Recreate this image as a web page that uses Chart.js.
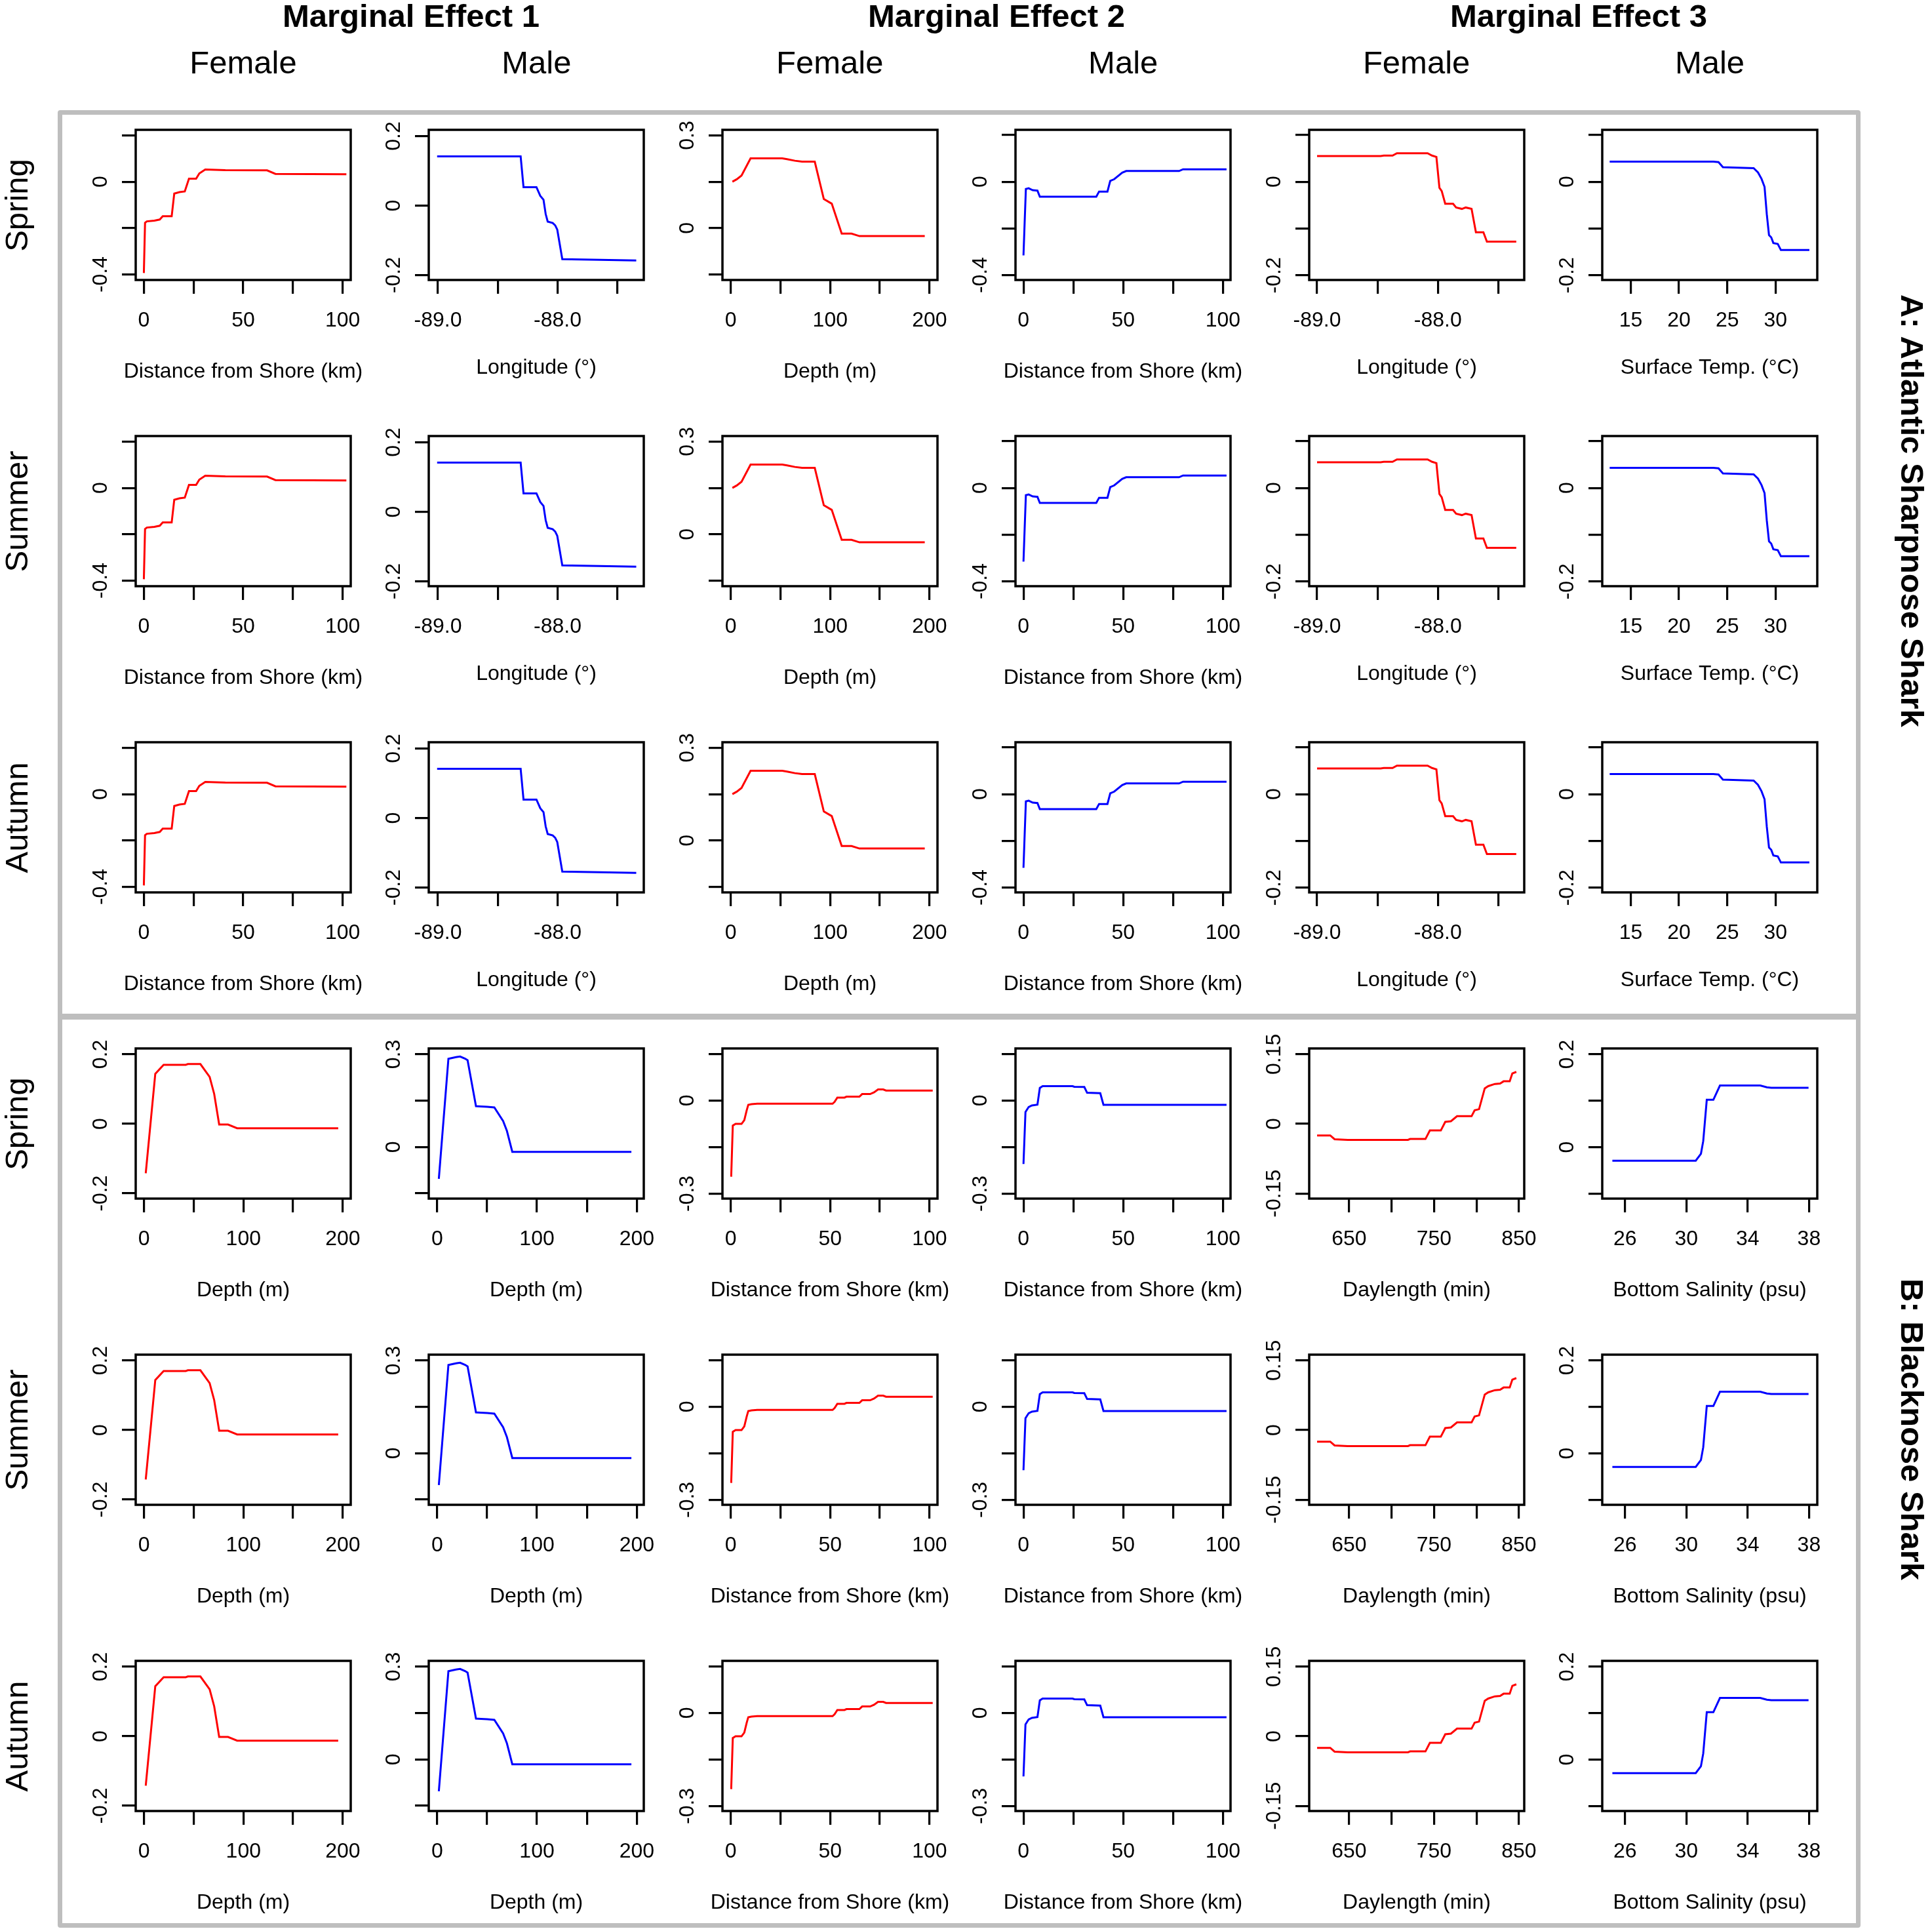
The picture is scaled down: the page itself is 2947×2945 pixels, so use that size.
<!DOCTYPE html>
<html>
<head>
<meta charset="utf-8">
<script src="https://cdn.jsdelivr.net/npm/chart.js@4.4.1/dist/chart.umd.min.js"></script>
<style>
  body { margin: 0; background: #fff; }
  #page { position: relative; width: 2947px; height: 2945px; overflow: hidden;
          font-family: "Liberation Sans", Arial, sans-serif; color: #000; background: #fff; }
  .lbl { position: absolute; transform: translate(-50%, -50%); white-space: nowrap;
         line-height: 1; font-size: 49px; }
  .bold { font-weight: bold; }
  .up { transform: translate(-50%, -50%) rotate(-90deg); }
  .down { transform: translate(-50%, -50%) rotate(90deg); }
  .block { position: absolute; box-sizing: border-box; border: 7px solid #bebebe; border-radius: 4px; }
  canvas { position: absolute; }
</style>
</head>
<body>
<div id="page"></div>
<script>
// ---- tick values / labels ----
const distTicks = [0, 25, 50, 75, 100];
const distLabels = ['0', '', '50', '', '100'];
const depthTicks = [0, 50, 100, 150, 200];
const depthLabels = ['0', '', '100', '', '200'];
const lonTicks = [-89, -88.5, -88, -87.5];
const lonLabels = ['-89.0', '', '-88.0', ''];
const tempTicks = [15, 20, 25, 30];
const tempLabels = ['15', '20', '25', '30'];
const dayTicks = [650, 700, 750, 800, 850];
const dayLabels = ['650', '', '750', '', '850'];
const salTicks = [26, 30, 34, 38];
const salLabels = ['26', '30', '34', '38'];

const yTicks04 = [0.2, 0, -0.2, -0.4];
const yLabels04 = ['', '0', '', '-0.4'];
const yTicks02 = [0.2, 0, -0.2];
const yLabels02 = ['0.2', '0', '-0.2'];
const yTicks03 = [0.3, 0.15, 0, -0.15];
const yLabels03 = ['0.3', '', '0', ''];
const yTicks01 = [0.1, 0, -0.1, -0.2];
const yLabels01 = ['', '0', '', '-0.2'];
const yTicks015 = [0.15, 0, -0.15, -0.3];
const yLabels015 = ['', '0', '', '-0.3'];
const yTicksDay = [0.15, 0, -0.15];
const yLabelsDay = ['0.15', '0', '-0.15'];
const yTicksSal = [0.2, 0.1, 0, -0.1];
const yLabelsSal = ['0.2', '', '0', ''];

// ---- A: Atlantic Sharpnose Shark ----
const aDistFX = [0, 0.6, 1.5, 5.3, 8, 9.5, 14, 15.3, 17.9, 20.6, 22.7, 26.3, 27.9, 30.9, 41, 62, 66.2, 101.9];
const aDistFY = [-0.394, -0.177, -0.171, -0.168, -0.163, -0.149, -0.149, -0.051, -0.045, -0.042, 0.013, 0.013, 0.036, 0.053, 0.050, 0.049, 0.034, 0.032];
const aLonMX = [-89.007, -88.309, -88.285, -88.177, -88.145, -88.118, -88.1, -88.083, -88.041, -88.02, -88.003, -87.961, -87.647, -87.343];
const aLonMY = [0.1415, 0.1415, 0.053, 0.053, 0.028, 0.017, -0.024, -0.046, -0.05, -0.057, -0.069, -0.154, -0.156, -0.158];
const aDepthFX = [1.6, 6, 10.8, 19.9, 51.8, 56.6, 64.5, 71.7, 84.5, 93.6, 101.6, 111.6, 121.5, 129.5, 195.2];
const aDepthFY = [0.15, 0.158, 0.17, 0.2255, 0.2255, 0.223, 0.218, 0.215, 0.215, 0.094, 0.079, -0.018, -0.018, -0.026, -0.026];
const aDistMX = [0, 0.6, 1.2, 2.6, 4.6, 7, 8.2, 36.5, 37.9, 42.1, 43.5, 45.5, 49.5, 51.5, 78, 80, 101.8];
const aDistMY = [-0.3155, -0.172, -0.031, -0.028, -0.036, -0.038, -0.064, -0.064, -0.042, -0.042, 0.004, 0.011, 0.039, 0.046, 0.046, 0.0535, 0.0535];
const aLonFX = [-89, -88.473, -88.448, -88.375, -88.339, -88.085, -88.048, -88.012, -87.987, -87.968, -87.939, -87.874, -87.849, -87.801, -87.769, -87.721, -87.685, -87.623, -87.594, -87.351];
const aLonFY = [0.055, 0.055, 0.056, 0.056, 0.061, 0.061, 0.056, 0.053, -0.013, -0.02, -0.047, -0.047, -0.055, -0.058, -0.055, -0.058, -0.108, -0.108, -0.128, -0.128];
const aTempMX = [12.82, 23.55, 24.09, 24.55, 26.14, 27.73, 28.18, 28.55, 28.86, 29.09, 29.32, 29.55, 29.77, 30.23, 30.55, 33.5];
const aTempMY = [0.043, 0.043, 0.042, 0.031, 0.03, 0.029, 0.02, 0.006, -0.011, -0.069, -0.114, -0.119, -0.131, -0.133, -0.146, -0.146];

// ---- B: Blacknose Shark ----
const bDepthFX = [1.7, 11.3, 19.7, 42, 44.1, 56.7, 66, 70.6, 75.6, 84.5, 93.7, 195.4];
const bDepthFY = [-0.142, 0.144, 0.17, 0.17, 0.172, 0.172, 0.135, 0.086, -0.002, -0.002, -0.0126, -0.0126];
const bDepthMX = [1.7, 11.3, 18.8, 23, 28, 30.5, 38.9, 43.9, 50.2, 57.3, 66.1, 69.9, 75.3, 194.6];
const bDepthMY = [-0.103, 0.2856, 0.291, 0.293, 0.286, 0.281, 0.132, 0.131, 0.13, 0.128, 0.084, 0.052, -0.0156, -0.0156];
const bDistFX = [0.2, 1, 2.4, 5.4, 6.8, 8, 8.8, 10.4, 13.3, 51.2, 52.2, 53.6, 57.2, 58.2, 64.7, 66.1, 70.1, 72.1, 74.1, 76.7, 78.1, 101.6];
const bDistFY = [-0.2456, -0.081, -0.0755, -0.0755, -0.0635, -0.0318, -0.0141, -0.012, -0.0106, -0.0106, -0.0049, 0.0092, 0.0092, 0.012, 0.012, 0.0205, 0.0205, 0.026, 0.0353, 0.0353, 0.0318, 0.0318];
const bDistMX = [0, 1, 2.6, 4.2, 7, 8.2, 9.6, 24.6, 25.5, 30.5, 31.9, 38.5, 40.1, 101.8];
const bDistMY = [-0.2047, -0.0374, -0.0212, -0.0162, -0.0134, 0.0402, 0.0459, 0.0459, 0.0438, 0.0431, 0.0247, 0.0233, -0.0141, -0.0141];
const bDayFX = [612.3, 627.8, 632.9, 648.4, 719.3, 721.8, 739.9, 745.1, 758, 763.2, 769.9, 777.1, 794.2, 797.8, 803, 809.7, 813.8, 821.6, 827.8, 831.9, 839.1, 842.2, 846.9];
const bDayFY = [-0.025, -0.025, -0.0331, -0.0345, -0.0345, -0.0326, -0.0326, -0.0142, -0.0142, 0.0043, 0.0057, 0.0165, 0.0165, 0.0293, 0.0317, 0.0765, 0.0813, 0.086, 0.0869, 0.0917, 0.0917, 0.1087, 0.112];
const bSalMX = [25.17, 30.61, 30.95, 31.1, 31.33, 31.76, 32.19, 34.82, 35.25, 35.54, 37.97];
const bSalMY = [-0.0293, -0.0293, -0.0142, 0.0132, 0.102, 0.102, 0.1329, 0.1329, 0.1291, 0.1281, 0.1281];

const seasons = ['Spring', 'Summer', 'Autumn'];
const effects = ['Marginal Effect 1', 'Marginal Effect 2', 'Marginal Effect 3'];
const sexes = ['Female', 'Male'];

const RED = '#ff0000', BLUE = '#0000ff';
const DIST = 'Distance from Shore (km)', LON = 'Longitude (°)', DEPTH = 'Depth (m)';

// one row of six panels per block (same curves in every season)
const blockA = [
  { x: aDistFX, y: aDistFY, c: RED, t: DIST, xr: [-4.1, 104.1], xt: distTicks, xl: distLabels, yr: [-0.424, 0.224], yt: yTicks04, yl: yLabels04 },
  { x: aLonMX, y: aLonMY, c: BLUE, t: LON, xr: [-89.077, -87.28], xt: lonTicks, xl: lonLabels, yr: [-0.214, 0.218], yt: yTicks02, yl: yLabels02, deg: true },
  { x: aDepthFX, y: aDepthFY, c: RED, t: DEPTH, xr: [-8.4, 208], xt: depthTicks, xl: depthLabels, yr: [-0.168, 0.318], yt: yTicks03, yl: yLabels03 },
  { x: aDistMX, y: aDistMY, c: BLUE, t: DIST, xr: [-4.0, 103.8], xt: distTicks, xl: distLabels, yr: [-0.421, 0.2225], yt: yTicks04, yl: yLabels04 },
  { x: aLonFX, y: aLonFY, c: RED, t: LON, xr: [-89.065, -87.285], xt: lonTicks, xl: lonLabels, yr: [-0.21, 0.111], yt: yTicks01, yl: yLabels01, deg: true },
  { x: aTempMX, y: aTempMY, c: BLUE, t: 'Surface Temp. (°C)', xr: [12.05, 34.32], xt: tempTicks, xl: tempLabels, yr: [-0.21, 0.111], yt: yTicks01, yl: yLabels01, deg: true }
];
const blockB = [
  { x: bDepthFX, y: bDepthFY, c: RED, t: DEPTH, xr: [-8.4, 208], xt: depthTicks, xl: depthLabels, yr: [-0.215, 0.217], yt: yTicks02, yl: yLabels02 },
  { x: bDepthMX, y: bDepthMY, c: BLUE, t: DEPTH, xr: [-8.4, 207], xt: depthTicks, xl: depthLabels, yr: [-0.167, 0.319], yt: yTicks03, yl: yLabels03 },
  { x: bDistFX, y: bDistFY, c: RED, t: DIST, xr: [-4.2, 104], xt: distTicks, xl: distLabels, yr: [-0.316, 0.1673], yt: yTicks015, yl: yLabels015 },
  { x: bDistMX, y: bDistMY, c: BLUE, t: DIST, xr: [-4.0, 103.8], xt: distTicks, xl: distLabels, yr: [-0.316, 0.1673], yt: yTicks015, yl: yLabels015 },
  { x: bDayFX, y: bDayFY, c: RED, t: 'Daylength (min)', xr: [603, 856.2], xt: dayTicks, xl: dayLabels, yr: [-0.161, 0.1625], yt: yTicksDay, yl: yLabelsDay },
  { x: bSalMX, y: bSalMY, c: BLUE, t: 'Bottom Salinity (psu)', xr: [24.51, 38.54], xt: salTicks, xl: salLabels, yr: [-0.111, 0.2128], yt: yTicksSal, yl: yLabelsSal }
];

// ---- layout (pixels) ----
const BOX_L = 207, COL_STEP = 447.4, BOX_W = 328;
const BOX_T = 198, ROW_STEP = 467, BOX_H = 229;
const PL = 100, PT = 30, PR = 70, PB = 180;
const FONT = '"Liberation Sans", Arial, sans-serif';

const page = document.getElementById('page');

function addText(txt, x, y, cls) {
  const d = document.createElement('div');
  d.className = 'lbl ' + (cls || '');
  d.textContent = txt;
  d.style.left = x + 'px';
  d.style.top = y + 'px';
  page.appendChild(d);
}

function addBlock(l, t, w, h) {
  const d = document.createElement('div');
  d.className = 'block';
  Object.assign(d.style, { left: l + 'px', top: t + 'px', width: w + 'px', height: h + 'px' });
  page.appendChild(d);
}

addBlock(87.5, 167.5, 2750, 1387.5);
addBlock(87.5, 1546, 2750, 1393.5);

// box, rotated y labels and x title, R style (Chart.js would squeeze the title to the axis width)
function rBox(p) {
  return {
    id: 'rbox',
    afterDraw(chart) {
      const { ctx, chartArea: a, scales: { y } } = chart;
      ctx.save();
      ctx.strokeStyle = '#000';
      ctx.lineWidth = 3.5;
      ctx.strokeRect(a.left, a.top, a.right - a.left, a.bottom - a.top);
      ctx.fillStyle = '#000';
      ctx.font = '32px ' + FONT;
      ctx.textAlign = 'center';
      ctx.textBaseline = 'alphabetic';
      y.ticks.forEach((t, i) => {
        if (!p.yl[i]) return;
        ctx.save();
        ctx.translate(a.left - 44, y.getPixelForValue(t.value));
        ctx.rotate(-Math.PI / 2);
        ctx.fillText(p.yl[i], 0, 0);
        ctx.restore();
      });
      ctx.textBaseline = 'middle';
      ctx.fillText(p.t, (a.left + a.right) / 2, a.bottom + (p.deg ? 134 : 140));
      ctx.restore();
    }
  };
}

function panel(p, col, row) {
  const cv = document.createElement('canvas');
  cv.width = PL + BOX_W + PR;
  cv.height = PT + BOX_H + PB;
  cv.style.left = (BOX_L + COL_STEP * col - PL) + 'px';
  cv.style.top = (BOX_T + ROW_STEP * row - PT) + 'px';
  page.appendChild(cv);

  const tickGrid = { display: true, drawOnChartArea: false, drawTicks: true, tickLength: 21,
                     tickWidth: 3.2, tickColor: '#000', color: '#000', lineWidth: 3.2 };
  new Chart(cv, {
    type: 'line',
    data: {
      datasets: [{
        data: p.x.map((v, i) => ({ x: v, y: p.y[i] })),
        borderColor: p.c, borderWidth: 3, pointRadius: 0, tension: 0, fill: false
      }]
    },
    options: {
      responsive: false,
      animation: false,
      layout: { padding: { top: PT, right: PR, left: 0, bottom: 0 } },
      plugins: { legend: { display: false }, tooltip: { enabled: false } },
      scales: {
        x: {
          type: 'linear', min: p.xr[0], max: p.xr[1],
          afterBuildTicks: s => { s.ticks = p.xt.map(v => ({ value: v })); },
          afterFit: s => { s.height = PB; },
          grid: tickGrid,
          border: { display: false },
          ticks: { autoSkip: false, maxRotation: 0, minRotation: 0, padding: 22, color: '#000',
                   font: { family: FONT, size: 32 }, callback: (v, i) => p.xl[i] }
        },
        y: {
          type: 'linear', min: p.yr[0], max: p.yr[1],
          afterBuildTicks: s => { s.ticks = p.yt.map(v => ({ value: v })); },
          afterFit: s => { s.width = PL; },
          grid: tickGrid,
          border: { display: false },
          ticks: { display: false }
        }
      }
    },
    plugins: [rBox(p)]
  });
}

[blockA, blockB].forEach((block, b) => {
  seasons.forEach((s, si) => {
    const row = b * 3 + si;
    addText(s, 25, BOX_T + ROW_STEP * row + BOX_H / 2, 'up');
    block.forEach((p, col) => panel(p, col, row));
  });
});

effects.forEach((e, i) => addText(e, [627, 1520, 2408][i], 24, 'bold'));
for (let c = 0; c < 6; c++) addText(sexes[c % 2], BOX_L + COL_STEP * c + BOX_W / 2, 94.5);

addText('A: Atlantic Sharpnose Shark', 2916, 778.5, 'bold down');
addText('B: Blacknose Shark', 2916, 2180, 'bold down');
</script>
</body>
</html>
